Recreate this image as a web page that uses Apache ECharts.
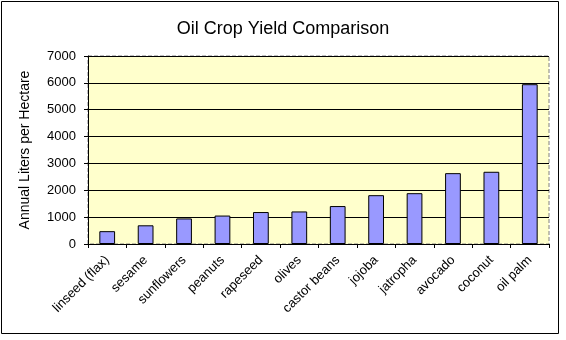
<!DOCTYPE html>
<html>
<head>
<meta charset="utf-8">
<script src="https://cdn.jsdelivr.net/npm/echarts@6/dist/echarts.min.js"></script>
<style>
  html, body { margin: 0; padding: 0; background: #ffffff; }
  #chart { width: 566px; height: 340px; }
</style>
</head>
<body>
<div id="chart"></div>
<script>
// Oil yield per crop, litres per hectare per year
const crops = ['linseed (flax)', 'sesame', 'sunflowers', 'peanuts', 'rapeseed', 'olives',
  'castor beans', 'jojoba', 'jatropha', 'avocado', 'coconut', 'oil palm'];
const yields = [478, 696, 952, 1059, 1190, 1212, 1413, 1818, 1892, 2638, 2689, 5950];
const yTicks = [0, 1000, 2000, 3000, 4000, 5000, 6000, 7000];

const font = '"Liberation Sans", Arial, sans-serif';
const chart = echarts.init(document.getElementById('chart'), null, { renderer: 'canvas' });

chart.setOption({
  animation: false,
  backgroundColor: '#ffffff',
  title: {
    text: 'Oil Crop Yield Comparison',
    left: 'center',
    top: 15,
    textStyle: { fontFamily: font, fontSize: 18, fontWeight: 'normal', color: '#000' }
  },
  graphic: [{
    type: 'rect',
    shape: { x: 1.5, y: 1.5, width: 557, height: 332 },
    style: { fill: 'none', stroke: '#000', lineWidth: 1 },
    silent: true,
    z: 100
  }],
  grid: {
    left: 88, right: 17, top: 56, bottom: 96,
    show: true,
    backgroundColor: '#FFFFCC',
    borderColor: '#808080',
    borderWidth: 1,
    borderType: 'dashed'
  },
  xAxis: {
    type: 'category',
    data: crops,
    boundaryGap: true,
    axisLine: { show: true, lineStyle: { color: '#000', width: 1 } },
    axisTick: { show: true, length: 4, inside: false, alignWithLabel: false, lineStyle: { color: '#000' } },
    axisLabel: { interval: 0, rotate: 45, margin: 14, fontFamily: font, fontSize: 13, color: '#000' },
    splitLine: { show: false }
  },
  yAxis: {
    type: 'value',
    min: yTicks[0],
    max: yTicks[yTicks.length - 1],
    interval: 1000,
    name: 'Annual Liters per Hectare',
    nameLocation: 'middle',
    nameRotate: 90,
    nameGap: 56,
    nameTextStyle: { fontFamily: font, fontSize: 14, color: '#000' },
    axisLine: { show: true, lineStyle: { color: '#000', width: 1 } },
    axisTick: { show: true, length: 4, inside: false, lineStyle: { color: '#000' } },
    axisLabel: { margin: 12, fontFamily: font, fontSize: 13, color: '#000', formatter: v => String(v) },
    splitLine: { show: true, lineStyle: { color: '#000', width: 1, type: 'solid' } }
  },
  series: [{
    type: 'bar',
    data: yields,
    barWidth: '41%',
    itemStyle: { color: '#9999FF', borderColor: '#000', borderWidth: 1 }
  }]
});
</script>
</body>
</html>
